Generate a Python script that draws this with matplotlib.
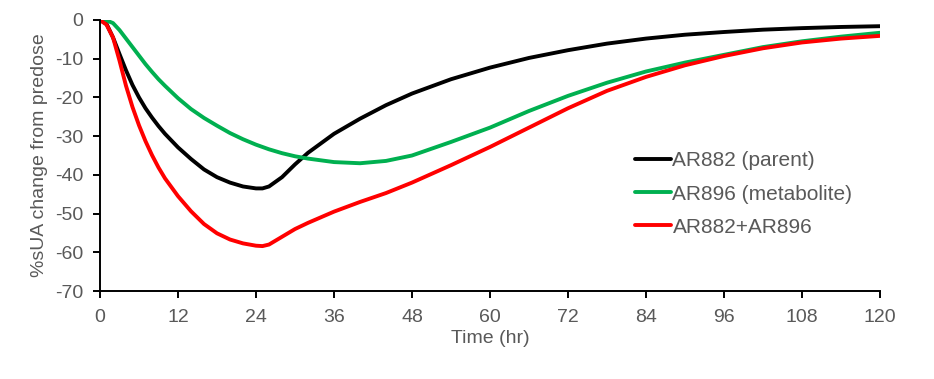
import matplotlib
matplotlib.use("Agg")
import matplotlib.pyplot as plt

time_hr = [0, 1, 2, 3, 4, 5, 6, 7, 8, 9, 10, 12, 14, 16, 18, 20, 22, 24, 25, 26,
           28, 30, 32, 36, 40, 44, 48, 54, 60, 66, 72, 78, 84, 90, 96, 102, 108, 114, 120]

parent = [0, -1, -4.5, -8.8, -13, -16.8, -20, -22.8, -25.2, -27.4, -29.4, -32.9, -35.9,
          -38.6, -40.6, -42, -43, -43.5, -43.5, -43, -40.6, -37.3, -34.3, -29.4, -25.5,
          -22, -19, -15.3, -12.3, -9.8, -7.8, -6.1, -4.8, -3.8, -3.1, -2.5, -2.1, -1.8, -1.6]

metabolite = [0, -0.1, -0.8, -2.6, -4.8, -7, -9.2, -11.4, -13.4, -15.3, -17, -20.2, -23,
              -25.3, -27.3, -29.2, -30.8, -32.2, -32.8, -33.4, -34.4, -35.2, -35.8, -36.7,
              -37, -36.4, -35, -31.5, -27.8, -23.5, -19.6, -16.2, -13.3, -11, -9, -7.0,
              -5.5, -4.3, -3.3]

combined = [0, -1.2, -4.5, -10.5, -17, -22.5, -27.2, -31.3, -34.9, -38.1, -40.9, -45.5,
            -49.4, -52.7, -55.1, -56.7, -57.7, -58.3, -58.4, -58, -56, -54, -52.4, -49.5,
            -47, -44.7, -42, -37.5, -32.8, -27.8, -22.8, -18.3, -14.7, -11.7, -9.3, -7.3,
            -5.8, -4.8, -4.1]

labels = ["AR882 (parent)", "AR896 (metabolite)", "AR882+AR896"]
colors = ["#000000", "#00B050", "#FF0000"]
x_ticks = [0, 12, 24, 36, 48, 60, 72, 84, 96, 108, 120]
y_ticks = [0, -10, -20, -30, -40, -50, -60, -70]

plt.rcParams['font.family'] = ['Liberation Sans', 'DejaVu Sans']
plt.rcParams['axes.unicode_minus'] = False
gray = "#595959"

fig = plt.figure(figsize=(9.34, 3.79), dpi=100)
ax = fig.add_axes([100/934, 1-291/379, 780/934, 271/379])

for series, lab, col in zip([parent, metabolite, combined], labels, colors):
    ax.plot(time_hr, series, color=col, lw=2.8, label=lab,
            solid_joinstyle='round', solid_capstyle='round')

ax.set_xlim(0, 120)
ax.set_ylim(-70, 0)
ax.set_xticks(x_ticks)
ax.set_yticks(y_ticks)
for s in ['top', 'right']:
    ax.spines[s].set_visible(False)
for s in ['left', 'bottom']:
    ax.spines[s].set_linewidth(1.4)
    ax.spines[s].set_color('black')
ax.tick_params(axis='both', direction='out', length=5, width=1.4, colors='black',
               labelcolor=gray, labelsize=14)
ax.tick_params(axis='y', pad=7)
ax.tick_params(axis='x', pad=8)

ax.set_xlabel("Time (hr)", fontsize=14, color=gray, labelpad=3)
ax.set_ylabel("%sUA change from predose", fontsize=14, color=gray, labelpad=5)

leg = ax.legend(loc='center left', bbox_to_anchor=(635/934, 1-194/379),
                bbox_transform=fig.transFigure, frameon=False, fontsize=15,
                handlelength=1.75, handletextpad=0.05, labelspacing=0.68,
                borderpad=0, borderaxespad=0)
for t in leg.get_texts():
    t.set_color(gray)

fig.savefig("out.png", dpi=100)
